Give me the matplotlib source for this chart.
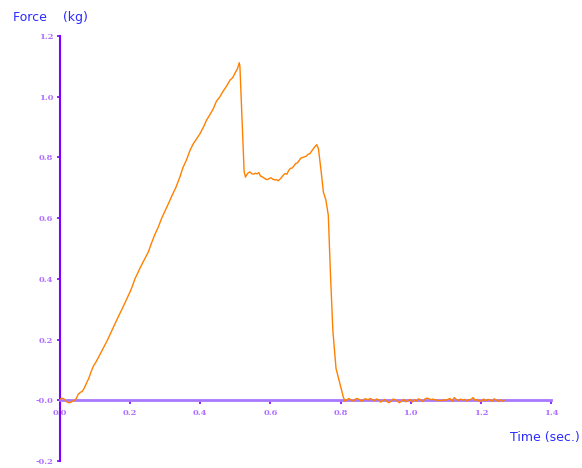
import matplotlib
matplotlib.use("Agg")
import matplotlib.pyplot as plt

# ---- data ----
time_s = [
    0.000, 0.006, 0.012, 0.018, 0.024, 0.030, 0.036, 0.041, 0.046, 0.052,
    0.058, 0.064, 0.070, 0.076, 0.082, 0.088, 0.095, 0.102, 0.110, 0.118,
    0.128, 0.136, 0.144, 0.152, 0.160, 0.170, 0.180, 0.190, 0.200, 0.207,
    0.214, 0.222, 0.230, 0.240, 0.252, 0.260, 0.270, 0.280, 0.290, 0.300,
    0.310, 0.320, 0.330, 0.342, 0.350, 0.360, 0.371, 0.380, 0.390, 0.400,
    0.409, 0.418, 0.428, 0.437, 0.446, 0.456, 0.465, 0.475, 0.485, 0.492,
    0.500, 0.506, 0.511, 0.513, 0.520, 0.525, 0.529, 0.532, 0.537, 0.542,
    0.547, 0.552, 0.557, 0.562, 0.567, 0.572, 0.577, 0.582, 0.587, 0.592,
    0.597, 0.602, 0.607, 0.612, 0.617, 0.622, 0.627, 0.632, 0.637, 0.642,
    0.647, 0.652, 0.657, 0.662, 0.667, 0.672, 0.677, 0.682, 0.687, 0.692,
    0.697, 0.702, 0.707, 0.712, 0.717, 0.722, 0.727, 0.732, 0.737, 0.744,
    0.751, 0.758, 0.765, 0.771, 0.778, 0.787, 0.798, 0.804, 0.808, 0.813,
    0.818, 0.824, 0.830, 0.836, 0.842, 0.848, 0.854, 0.860, 0.866, 0.872,
    0.878, 0.884, 0.890, 0.896, 0.902, 0.908, 0.914, 0.920, 0.926, 0.932,
    0.938, 0.944, 0.950, 0.956, 0.962, 0.968, 0.974, 0.980, 0.986, 0.992,
    0.998, 1.004, 1.010, 1.016, 1.022, 1.028, 1.034, 1.040, 1.046, 1.052,
    1.058, 1.064, 1.070, 1.076, 1.082, 1.088, 1.094, 1.100, 1.106, 1.112,
    1.118, 1.124, 1.130, 1.136, 1.142, 1.148, 1.154, 1.160, 1.166, 1.172,
    1.178, 1.184, 1.190, 1.196, 1.202, 1.208, 1.214, 1.220, 1.226, 1.232,
    1.238, 1.244, 1.250, 1.256, 1.262, 1.266,
]
force_kg = [
    0.004, 0.007, 0.004, -0.004, -0.008, -0.007, -0.003, -0.001, 0.005, 0.020,
    0.026, 0.030, 0.042, 0.058, 0.072, 0.092, 0.112, 0.125, 0.142, 0.160,
    0.182, 0.200, 0.220, 0.240, 0.260, 0.284, 0.308, 0.333, 0.358, 0.378,
    0.401, 0.420, 0.440, 0.462, 0.489, 0.515, 0.545, 0.570, 0.600, 0.625,
    0.650, 0.676, 0.700, 0.736, 0.765, 0.790, 0.824, 0.845, 0.862, 0.880,
    0.900, 0.923, 0.942, 0.960, 0.985, 1.000, 1.018, 1.035, 1.055, 1.062,
    1.080, 1.092, 1.112, 1.100, 0.900, 0.753, 0.735, 0.742, 0.750, 0.752,
    0.746, 0.745, 0.748, 0.746, 0.750, 0.738, 0.736, 0.732, 0.728, 0.727,
    0.731, 0.733, 0.728, 0.726, 0.727, 0.723, 0.728, 0.735, 0.742, 0.747,
    0.745, 0.757, 0.764, 0.765, 0.772, 0.780, 0.782, 0.790, 0.798, 0.800,
    0.802, 0.804, 0.810, 0.812, 0.820, 0.828, 0.836, 0.842, 0.828, 0.760,
    0.686, 0.660, 0.610, 0.420, 0.230, 0.105, 0.056, 0.030, 0.010, -0.004,
    0.002, 0.006, 0.001, -0.003, 0.004, 0.006, 0.002, -0.004, 0.003, 0.005,
    0.001, 0.006, 0.003, -0.002, 0.004, 0.002, -0.006, -0.001, 0.003, -0.004,
    -0.008, -0.002, 0.004, 0.002, -0.003, -0.008, -0.002, 0.003, -0.005, -0.001,
    0.003, -0.006, 0.002, -0.003, 0.005, 0.001, -0.004, 0.004, 0.007, 0.005,
    0.002, 0.004, 0.001, 0.000, -0.001, -0.001, 0.002, 0.000, 0.003, 0.006,
    -0.004, 0.009, 0.003, -0.001, 0.004, 0.001, 0.003, -0.003, 0.002, 0.003,
    0.009, -0.001, 0.003, -0.004, -0.002, 0.004, -0.002, 0.003, 0.001, -0.004,
    0.005, 0.001, -0.004, 0.002, -0.003, 0.000,
]

x_ticks = [0.0, 0.2, 0.4, 0.6, 0.8, 1.0, 1.2, 1.4]
x_tick_labels = ["0.0", "0.2", "0.4", "0.6", "0.8", "1.0", "1.2", "1.4"]
y_ticks = [-0.2, 0.0, 0.2, 0.4, 0.6, 0.8, 1.0, 1.2]
y_tick_labels = ["-0.2", "-0.0", "0.2", "0.4", "0.6", "0.8", "1.0", "1.2"]

# ---- figure ----
W, H = 582, 468
fig = plt.figure(figsize=(W / 100, H / 100), dpi=100)
left, right = 60 / W, 551 / W
bottom, top = (H - 461) / H, (H - 36) / H
ax = fig.add_axes([left, bottom, right - left, top - bottom])
ax.set_xlim(0, 1.4)
ax.set_ylim(-0.2, 1.2)

ax.plot(time_s, force_kg, color="#ff8000", lw=1.0, zorder=3)

for s in ("top", "right"):
    ax.spines[s].set_visible(False)
ax.spines["left"].set_color("#8000ff")
ax.spines["left"].set_linewidth(1.5)
ax.spines["bottom"].set_position(("data", 0))
ax.spines["bottom"].set_color("#a878ff")
ax.spines["bottom"].set_linewidth(2.0)

tick_font = dict(family="DejaVu Serif", size=6, weight="bold", color="#b070ff")
ax.set_xticks(x_ticks)
ax.set_xticklabels(x_tick_labels, fontdict=tick_font)
ax.set_yticks(y_ticks)
ax.set_yticklabels(y_tick_labels, fontdict=tick_font)
ax.tick_params(axis="x", direction="out", length=3, width=1.2, color="#8000ff", pad=3)
ax.tick_params(axis="y", direction="out", length=2.5, width=1.2, color="#8000ff", pad=2.5)

fig.text(13 / W, 1 - 18 / H, "Force    (kg)", color="#2a2aff", fontsize=9,
         family="DejaVu Sans", ha="left", va="center")
fig.text(580 / W, 1 - 438 / H, "Time (sec.)", color="#2a2aff", fontsize=9,
         family="DejaVu Sans", ha="right", va="center")

fig.savefig("out.png", dpi=100)
